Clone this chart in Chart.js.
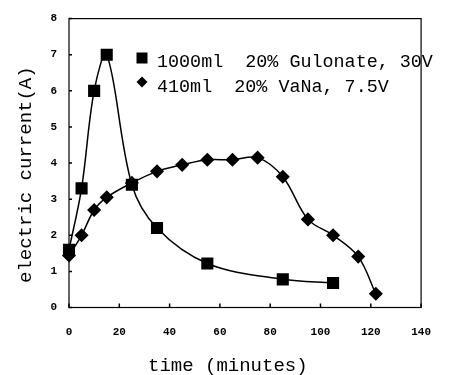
<!DOCTYPE html>
<html>
<head>
<meta charset="utf-8">
<script src="https://cdn.jsdelivr.net/npm/chart.js@4/dist/chart.umd.min.js"></script>
<style>
  html, body { margin: 0; padding: 0; background: #fff; }
  #wrap { width: 449px; height: 375px; }
</style>
</head>
<body>
<div id="wrap"><canvas id="currentChart" width="449" height="375"></canvas></div>
<script>
// series data
const gulonateLabel = '1000ml  20% Gulonate, 30V';
const gulonateTime = [0, 5, 10, 15, 25, 35, 55, 85, 105];
const gulonateCurrent = [1.6, 3.3, 6.0, 7.0, 3.4, 2.2, 1.22, 0.78, 0.68];

const vanaLabel = '410ml  20% VaNa, 7.5V';
const vanaTime = [0, 5, 10, 15, 25, 35, 45, 55, 65, 75, 85, 95, 105, 115, 122];
const vanaCurrent = [1.44, 2.0, 2.7, 3.05, 3.45, 3.77, 3.95, 4.09, 4.09, 4.15, 3.62, 2.44, 2.0, 1.41, 0.38];

const xTicks = [0, 20, 40, 60, 80, 100, 120, 140];
const yTicks = [0, 1, 2, 3, 4, 5, 6, 7, 8];
const xTitle = 'time (minutes)';
const yTitle = 'electric current(A)';

const toPoints = (xs, ys) => xs.map((x, i) => ({ x, y: ys[i] }));

const monoFont = '"Liberation Mono", "DejaVu Sans Mono", monospace';

// frame, inside tick marks, legend and axis titles
const decorations = {
  id: 'decorations',
  afterDraw(chart) {
    const { ctx, chartArea, scales } = chart;
    ctx.save();
    ctx.strokeStyle = '#000';
    ctx.lineWidth = 1.2;
    ctx.strokeRect(chartArea.left, chartArea.top, chartArea.right - chartArea.left, chartArea.bottom - chartArea.top);

    ctx.lineWidth = 1.5;
    ctx.beginPath();
    xTicks.forEach(v => {
      const px = scales.x.getPixelForValue(v);
      ctx.moveTo(px, chartArea.bottom);
      ctx.lineTo(px, chartArea.bottom - 4);
    });
    yTicks.forEach(v => {
      const py = scales.y.getPixelForValue(v);
      ctx.moveTo(chartArea.left, py);
      ctx.lineTo(chartArea.left + 3, py);
    });
    ctx.stroke();

    // legend
    ctx.fillStyle = '#000';
    ctx.fillRect(136.5, 52.5, 11, 11);
    ctx.beginPath();
    ctx.moveTo(142, 76.5);
    ctx.lineTo(147.5, 82);
    ctx.lineTo(142, 87.5);
    ctx.lineTo(136.5, 82);
    ctx.closePath();
    ctx.fill();
    ctx.font = '18.4px ' + monoFont;
    ctx.textBaseline = 'alphabetic';
    ctx.textAlign = 'left';
    ctx.fillText(gulonateLabel, 157, 67);
    ctx.fillText(vanaLabel, 157, 92);

    // axis titles
    ctx.font = '19px ' + monoFont;
    ctx.fillText(xTitle, 148, 371);
    ctx.translate(31, 283);
    ctx.rotate(-Math.PI / 2);
    ctx.fillText(yTitle, 0, 0);
    ctx.restore();
  }
};

const ctx = document.getElementById('currentChart').getContext('2d');
new Chart(ctx, {
  type: 'line',
  data: {
    datasets: [{
      label: gulonateLabel,
      data: toPoints(gulonateTime, gulonateCurrent),
      borderColor: '#000',
      backgroundColor: '#000',
      borderWidth: 1.5,
      pointStyle: 'rect',
      pointRadius: 7.5,
      pointHoverRadius: 7.5,
      tension: 0.35,
      clip: false,
      fill: false
    }, {
      label: vanaLabel,
      data: toPoints(vanaTime, vanaCurrent),
      borderColor: '#000',
      backgroundColor: '#000',
      borderWidth: 1.5,
      pointStyle: 'rectRot',
      pointRadius: 6,
      pointHoverRadius: 6,
      tension: 0.35,
      clip: false,
      fill: false
    }]
  },
  options: {
    responsive: false,
    animation: false,
    events: [],
    layout: { padding: { top: 17, right: 9, left: 0, bottom: 0 } },
    plugins: {
      legend: { display: false },
      tooltip: { enabled: false }
    },
    scales: {
      x: {
        type: 'linear',
        min: 0,
        max: 140,
        afterFit: scale => { scale.height = 67.5; },
        afterBuildTicks: scale => { scale.ticks = xTicks.map(v => ({ value: v })); },
        grid: { display: false, drawTicks: false },
        border: { display: false },
        ticks: {
          padding: 18,
          color: '#000',
          maxRotation: 0,
          autoSkip: false,
          font: { family: monoFont, size: 11, weight: 'bold' }
        }
      },
      y: {
        min: 0,
        max: 8,
        afterFit: scale => { scale.width = 69; },
        afterBuildTicks: scale => { scale.ticks = yTicks.map(v => ({ value: v })); },
        grid: { display: false, drawTicks: false },
        border: { display: false },
        ticks: {
          padding: 12,
          color: '#000',
          autoSkip: false,
          font: { family: monoFont, size: 11, weight: 'bold' }
        }
      }
    }
  },
  plugins: [decorations]
});
</script>
</body>
</html>
